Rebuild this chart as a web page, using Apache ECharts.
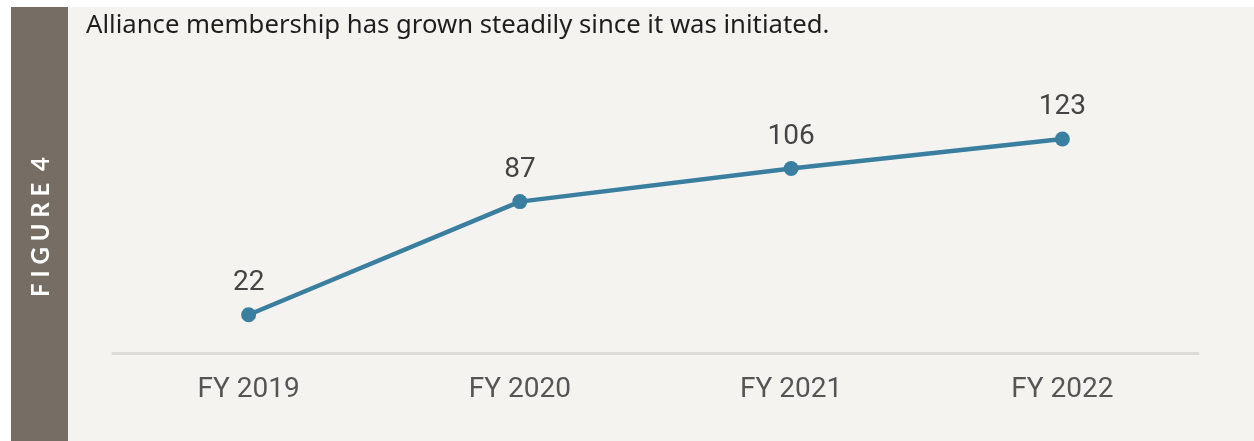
<!DOCTYPE html>
<html>
<head>
<meta charset="utf-8">
<script src="https://cdn.jsdelivr.net/npm/echarts@6/dist/echarts.min.js"></script>
<style>
  html, body { margin: 0; padding: 0; background: #ffffff; }
  #chart { width: 1254px; height: 441px; }
</style>
</head>
<body>
<div id="chart"></div>
<script>
// data
var years = ["FY 2019", "FY 2020", "FY 2021", "FY 2022"];
var members = [22, 87, 106, 123];

var chartDom = document.getElementById("chart");
var myChart = echarts.init(chartDom);
var option;

option = {
  animation: false,
  graphic: [
    // beige card
    { type: "rect", left: 11, top: 7, z: -10, shape: { width: 1243, height: 434 }, style: { fill: "#f4f3f0" } },
    // grey side panel
    { type: "rect", left: 11, top: 7, z: -5, shape: { width: 57, height: 434 }, style: { fill: "#766e65" } },
    {
      type: "text",
      x: 41,
      y: 227,
      rotation: Math.PI / 2,
      style: {
        text: "F I G U R E  4",
        fill: "#ffffff",
        font: "bold 24px Lato, 'Open Sans', sans-serif",
        align: "center",
        verticalAlign: "middle"
      }
    }
  ],
  title: {
    text: "Alliance membership has grown steadily since it was initiated.",
    left: 81,
    top: 8,
    textStyle: {
      fontFamily: "'Noto Sans', 'Open Sans', sans-serif",
      fontWeight: "normal",
      fontSize: 25.7,
      color: "#1e1e1e"
    }
  },
  grid: { left: 113, right: 56, top: 92, bottom: 88 },
  xAxis: {
    type: "category",
    data: years,
    axisLine: { lineStyle: { color: "#dcdbd8", width: 3 } },
    axisTick: { show: false },
    axisLabel: {
      margin: 23,
      fontFamily: "Roboto, sans-serif",
      fontSize: 28,
      color: "#555555"
    }
  },
  yAxis: {
    type: "value",
    min: 0,
    max: 150,
    show: false,
    splitLine: { show: false }
  },
  series: [
    {
      name: "Members",
      type: "line",
      data: members,
      symbol: "circle",
      symbolSize: 15,
      lineStyle: { color: "#3b7fa0", width: 4.5 },
      itemStyle: { color: "#3b7fa0" },
      label: {
        show: true,
        position: "top",
        distance: 10,
        fontFamily: "Roboto, sans-serif",
        fontSize: 28,
        color: "#444444"
      }
    }
  ]
};

option && myChart.setOption(option);
</script>
</body>
</html>
